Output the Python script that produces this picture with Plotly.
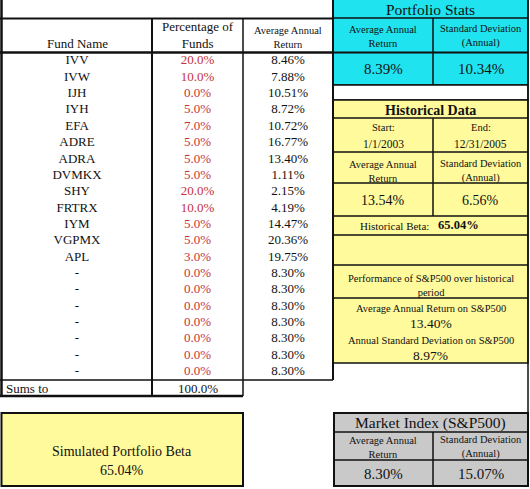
import plotly.graph_objects as go

# ---------------- data ----------------
fund_names = ["IVV", "IVW", "IJH", "IYH", "EFA", "ADRE", "ADRA", "DVMKX", "SHY", "FRTRX",
              "IYM", "VGPMX", "APL", "-", "-", "-", "-", "-", "-", "-"]
pct_of_funds = [20.0, 10.0, 0.0, 5.0, 7.0, 5.0, 5.0, 5.0, 20.0, 10.0,
                5.0, 5.0, 3.0, 0.0, 0.0, 0.0, 0.0, 0.0, 0.0, 0.0]
avg_annual_return = [8.46, 7.88, 10.51, 8.72, 10.72, 16.77, 13.40, 1.11, 2.15, 4.19,
                     14.47, 20.36, 19.75, 8.30, 8.30, 8.30, 8.30, 8.30, 8.30, 8.30]
sum_pct = 100.0

portfolio_return = 8.39
portfolio_std = 10.34
hist_start = "1/1/2003"
hist_end = "12/31/2005"
hist_return = 13.54
hist_std = 6.56
hist_beta = 65.04
sp_hist_return = 13.40
sp_hist_std = 8.97
sim_beta = 65.04
market_return = 8.30
market_std = 15.07

# ---------------- style ----------------
W, H = 530, 489
FONT = "Liberation Serif"
CYAN = "#1FE3EF"
YELLOW = "#FFFA9C"
GRAY = "#C9C9C9"
RED = "#C8323A"
BLACK = "#111111"

fig = go.Figure()
shapes = []
ann = []


def rect(x0, y0, x1, y1, fill, lw=1.5):
    shapes.append(dict(type="rect", xref="x", yref="y", x0=x0, y0=y0, x1=x1, y1=y1,
                       fillcolor=fill, line=dict(color=BLACK, width=lw), layer="below"))


def line(x0, y0, x1, y1, lw=1.5):
    shapes.append(dict(type="line", xref="x", yref="y", x0=x0, y0=y0, x1=x1, y1=y1,
                       line=dict(color=BLACK, width=lw), layer="above"))


def text(x, y, s, size, color=BLACK, bold=False, xanchor="center"):
    if bold:
        s = "<b>" + s + "</b>"
    ann.append(dict(x=x, y=y, xref="x", yref="y", text=s, showarrow=False,
                    xanchor=xanchor, yanchor="middle",
                    font=dict(family=FONT, size=size, color=color)))


# ---------------- left table ----------------
top_rows, bot_rows = 53, 380
n = len(fund_names)
row_h = (bot_rows - top_rows) / n
row_y = [top_rows + row_h * (i + 0.5) for i in range(n)]
cx_name, cx_pct, cx_ret = 77, 197.5, 288

line(1.5, 0, 1.5, 396, 2.5)
line(0, 18.5, 333, 18.5, 2)
line(0, 52.5, 333, 52.5, 2.5)
line(152, 18.5, 152, 396, 2)
line(243, 18.5, 243, 396, 1.5)
line(333, 0, 333, 380, 2)
line(0, 380, 333, 380, 1.5)
line(0, 396, 243, 396, 2.5)

text(cx_name, 43, "Fund Name", 13)
text(cx_pct, 35, "Percentage of<br>Funds", 13)
text(cx_ret, 37, "Average Annual<br>Return", 10.5)

fig.add_trace(go.Scatter(x=[cx_name] * n, y=row_y, mode="text", text=fund_names,
                         textfont=dict(family=FONT, size=13, color=BLACK),
                         hoverinfo="skip", showlegend=False))
fig.add_trace(go.Scatter(x=[cx_pct] * n, y=row_y, mode="text",
                         text=[f"{v:.1f}%" for v in pct_of_funds],
                         textfont=dict(family=FONT, size=13, color=RED),
                         hoverinfo="skip", showlegend=False))
fig.add_trace(go.Scatter(x=[cx_ret] * n, y=row_y, mode="text",
                         text=[f"{v:.2f}%" for v in avg_annual_return],
                         textfont=dict(family=FONT, size=13, color=BLACK),
                         hoverinfo="skip", showlegend=False))

text(4, 388, "Sums to", 13, xanchor="left")
text(cx_pct, 388, f"{sum_pct:.1f}%", 13)

# ---------------- Portfolio Stats (cyan) ----------------
L, R, M = 333, 528, 433
rect(L, -2, R, 85, CYAN)
line(L, 18, R, 18, 1.5)
line(L, 52.5, R, 52.5, 2)
line(M, 18, M, 85, 1.5)
text((L + R) / 2, 9.5, "Portfolio Stats", 15.5)
text((L + M) / 2, 36, "Average Annual<br>Return", 10.5)
text((M + R) / 2, 36, "Standard Deviation<br>(Annual)", 10.5)
text((L + M) / 2, 69, f"{portfolio_return:.2f}%", 15)
text((M + R) / 2, 69, f"{portfolio_std:.2f}%", 15)

rect(L, 85, R, 100, "#FFFFFF")

# ---------------- Historical Data (yellow) ----------------
rect(L, 100, R, 363, YELLOW)
for yy in (118, 152, 183, 216, 235, 265, 298):
    line(L, yy, R, yy, 1.5)
line(M, 118, M, 216, 1.5)
text((L + R) / 2, 110, "Historical Data", 14, bold=True)
text((L + M) / 2, 127.5, "Start:", 10.5)
text((M + R) / 2, 127.5, "End:", 10.5)
text((L + M) / 2, 144, hist_start, 11.5)
text((M + R) / 2, 144, hist_end, 11.5)
text((L + M) / 2, 171, "Average Annual<br>Return", 10.5)
text((M + R) / 2, 171, "Standard Deviation<br>(Annual)", 10.5)
text((L + M) / 2, 200, f"{hist_return:.2f}%", 14)
text((M + R) / 2, 200, f"{hist_std:.2f}%", 14)
text(431, 225.5, "Historical Beta:", 11, xanchor="right")
text(436, 225, f"{hist_beta:.2f}%", 12.5, bold=True, xanchor="left")
text((L + R) / 2, 285.5, "Performance of S&P500 over historical<br>period", 10.5)
text((L + R) / 2, 308, "Average Annual Return on S&P500", 10.5)
text((L + R) / 2, 323.5, f"{sp_hist_return:.2f}%", 13.5)
text((L + R) / 2, 340, "Annual Standard Deviation on S&P500", 10.5)
text((L + R) / 2, 355, f"{sp_hist_std:.2f}%", 13.5)

line(R, 0, R, 486, 1.5)

# ---------------- Simulated Portfolio Beta ----------------
rect(1.5, 413, 243, 486, YELLOW, 2)
text(122, 451, "Simulated Portfolio Beta", 14)
text(122, 470, f"{sim_beta:.2f}%", 14)

# ---------------- Market Index ----------------
rect(L + 1, 413, R, 486, GRAY, 2)
line(L + 1, 432, R, 432, 1.5)
line(L + 1, 460, R, 460, 1.5)
line(M, 432, M, 486, 1.5)
text((L + R) / 2, 422.5, "Market Index (S&P500)", 15.5)
text((L + M) / 2, 447, "Average Annual<br>Return", 10.5)
text((M + R) / 2, 447, "Standard Deviation<br>(Annual)", 10.5)
text((L + M) / 2, 473.5, f"{market_return:.2f}%", 15)
text((M + R) / 2, 473.5, f"{market_std:.2f}%", 15)

fig.update_layout(
    width=W, height=H, margin=dict(l=0, r=0, t=0, b=0),
    paper_bgcolor="white", plot_bgcolor="white",
    xaxis=dict(range=[0, W], visible=False, fixedrange=True),
    yaxis=dict(range=[H, 0], visible=False, fixedrange=True),
    shapes=shapes, annotations=ann, showlegend=False,
)
fig.write_html("out.html", config={"displayModeBar": False})

# remove default page margin so the figure sits at the window's top-left corner
with open("out.html", "r", encoding="utf-8") as f:
    html = f.read()
html = html.replace("<head>", "<head><style>html,body{margin:0;padding:0;overflow:hidden;}</style>", 1)
with open("out.html", "w", encoding="utf-8") as f:
    f.write(html)
